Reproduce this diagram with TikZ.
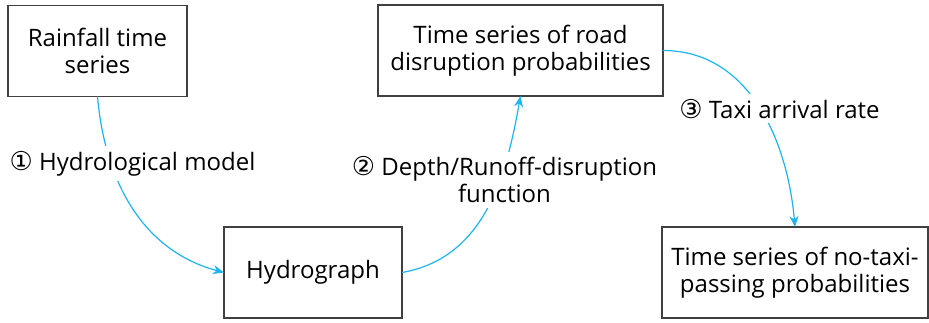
\documentclass[tikz,border=0pt]{standalone}
\usepackage{fontspec}
\setmainfont{Open Sans}
\newfontfamily\circfont[Scale=1.08]{DejaVu Sans}
\usetikzlibrary{arrows.meta}

\definecolor{boxgray}{RGB}{64,64,64}
\definecolor{flowblue}{RGB}{30,180,240}

\begin{document}
\begin{tikzpicture}[x=1pt, y=1pt]
\tikzset{ >={Stealth[length=11pt, width=9pt, inset=3.5pt]},
  box/.style={draw=boxgray, line width=1.2pt, fill=white, align=center,
    minimum height=91pt, inner sep=0pt, outer sep=0pt,
    font=\fontsize{24}{27}\selectfont},
  flow/.style={->, flowblue, line width=1.2pt},
  modeltext/.style={fill=white, align=center, inner xsep=3pt, inner ysep=5pt,
    font=\fontsize{24}{27}\selectfont},
}

\useasboundingbox (0,0) rectangle (929,322);

% boxes
\node [box, minimum width=179pt] (R) at (97.5,271)  {Rainfall time\\series};
\node [box, minimum width=178pt] (H) at (313,49.5)  {Hydrograph};
\node [box, minimum width=285pt] (D) at (520.5,271.5) {Time series of road\\disruption probabilities};
\node [box, minimum width=266pt] (N) at (795,49.5)  {Time series of no-taxi-\\passing probabilities};

% connectors
\draw [flow] (R.south) to [out=-85, in=165] (H.west);
\draw [flow] (H.east)  to [out=10, in=-100] (D.south);
\draw [flow] (D.east)  to [out=0, in=95]    (N.north);

% models on the connectors
\node [modeltext, anchor=base] (M1) at (132.5,152) {{\circfont ①} Hydrological model};
\node [modeltext] (M2) at (504.5,142) {{\circfont ②} Depth/Runoff-disruption\\function};
\node [modeltext, anchor=base] (M3) at (779.5,204) {{\circfont ③} Taxi arrival rate};

\end{tikzpicture}
\end{document}
